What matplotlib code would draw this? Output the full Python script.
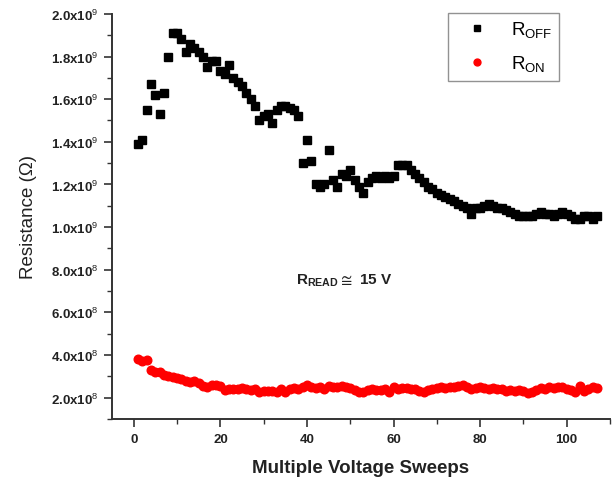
import matplotlib
matplotlib.use('Agg')
import matplotlib.pyplot as plt
from matplotlib.ticker import MultipleLocator, FixedLocator

plt.rcParams['font.family'] = ['Liberation Sans', 'DejaVu Sans']
plt.rcParams['mathtext.fontset'] = 'custom'
plt.rcParams['mathtext.rm'] = 'Liberation Sans'
plt.rcParams['mathtext.bf'] = 'Liberation Sans:bold'

sweeps = list(range(1, 108))

# R_OFF in units of 1e9 ohm
r_off = [1.39, 1.41, 1.55, 1.67, 1.62, 1.53, 1.63, 1.80, 1.91, 1.91,
         1.88, 1.82, 1.86, 1.84, 1.82, 1.80, 1.75, 1.78, 1.78, 1.73,
         1.72, 1.76, 1.70, 1.68, 1.66, 1.63, 1.60, 1.57, 1.50, 1.52,
         1.53, 1.49, 1.55, 1.57, 1.57, 1.56, 1.55, 1.52, 1.30, 1.41,
         1.31, 1.20, 1.19, 1.20, 1.36, 1.22, 1.19, 1.25, 1.24, 1.27,
         1.22, 1.19, 1.16, 1.21, 1.23, 1.24, 1.23, 1.24, 1.23, 1.24,
         1.29, 1.29, 1.29, 1.27, 1.25, 1.23, 1.21, 1.19, 1.18, 1.16,
         1.15, 1.14, 1.13, 1.12, 1.11, 1.10, 1.09, 1.06, 1.09, 1.09,
         1.10, 1.11, 1.10, 1.09, 1.09, 1.08, 1.07, 1.06, 1.05, 1.05,
         1.05, 1.05, 1.06, 1.07, 1.06, 1.06, 1.05, 1.06, 1.07, 1.06,
         1.05, 1.04, 1.04, 1.05, 1.05, 1.04, 1.05]

# R_ON in units of 1e8 ohm
r_on = [3.80, 3.72, 3.75, 3.30, 3.22, 3.18, 3.08, 3.02, 2.95, 2.90,
        2.88, 2.76, 2.74, 2.78, 2.68, 2.55, 2.52, 2.60, 2.58, 2.55,
        2.35, 2.40, 2.42, 2.38, 2.45, 2.40, 2.36, 2.42, 2.28, 2.30,
        2.33, 2.30, 2.25, 2.38, 2.28, 2.40, 2.45, 2.40, 2.50, 2.60,
        2.52, 2.46, 2.50, 2.42, 2.55, 2.52, 2.50, 2.54, 2.48, 2.44,
        2.35, 2.28, 2.25, 2.35, 2.38, 2.36, 2.34, 2.38, 2.28, 2.50,
        2.38, 2.44, 2.45, 2.40, 2.42, 2.30, 2.26, 2.34, 2.40, 2.46,
        2.48, 2.45, 2.52, 2.50, 2.55, 2.60, 2.48, 2.42, 2.46, 2.48,
        2.45, 2.40, 2.44, 2.38, 2.40, 2.30, 2.35, 2.30, 2.34, 2.32,
        2.22, 2.28, 2.35, 2.45, 2.40, 2.48, 2.45, 2.50, 2.52, 2.42,
        2.35, 2.28, 2.55, 2.32, 2.40, 2.50, 2.44]

y_ticks = [2e8, 4e8, 6e8, 8e8, 1e9, 1.2e9, 1.4e9, 1.6e9, 1.8e9, 2e9]
y_labels = ['2.0x10$^{8}$', '4.0x10$^{8}$', '6.0x10$^{8}$', '8.0x10$^{8}$',
            '1.0x10$^{9}$', '1.2x10$^{9}$', '1.4x10$^{9}$', '1.6x10$^{9}$',
            '1.8x10$^{9}$', '2.0x10$^{9}$']

fig = plt.figure(figsize=(6.13, 4.81), dpi=100)
ax = fig.add_axes([0.183, 0.127, 0.812, 0.842])

ax.plot(sweeps, [v * 1e9 for v in r_off], 's', color='black', ms=5.8,
        label='R$_{\\mathregular{OFF}}$')
ax.plot(sweeps, [v * 1e8 for v in r_on], 'o', color='#ff0000', ms=6.2,
        label='R$_{\\mathregular{ON}}$')

ax.set_xlim(-5, 110)
ax.set_ylim(1.0e8, 2.0e9)

ax.xaxis.set_major_locator(FixedLocator([0, 20, 40, 60, 80, 100]))
ax.xaxis.set_minor_locator(FixedLocator([10, 30, 50, 70, 90, 110]))
ax.set_yticks(y_ticks)
ax.set_yticklabels(y_labels)
ax.yaxis.set_minor_locator(MultipleLocator(1e8))

for s in ['top', 'right']:
    ax.spines[s].set_visible(False)
for s in ['left', 'bottom']:
    ax.spines[s].set_color('#333333')
    ax.spines[s].set_linewidth(1.4)

ax.tick_params(which='major', direction='out', length=6, width=1.2,
               color='#333333', labelsize=9.5, pad=4)
ax.tick_params(which='minor', direction='out', length=3.5, width=1.0,
               color='#333333')
for lab in ax.get_xticklabels() + ax.get_yticklabels():
    lab.set_fontweight('bold')
    lab.set_color('#222222')

ax.set_xlabel('Multiple Voltage Sweeps', fontsize=13.5, fontweight='bold',
              color='#222222', labelpad=10)
ax.set_ylabel('Resistance (\u03a9)', fontsize=13.5, color='#222222', labelpad=10)

ax.text(37.5, 7.55e8, 'R$_{\\mathbf{READ}}$$\\mathbf{\\cong}$ 15 V', fontsize=11,
        fontweight='bold', color='#222222', va='center')

leg = ax.legend(loc='upper left', bbox_to_anchor=(448 / 613, 1 - 14 / 481),
                bbox_transform=fig.transFigure, fontsize=13.5, markerscale=0.8,
                frameon=True, fancybox=False, handletextpad=0.6,
                borderpad=0.35, labelspacing=0.75, handlelength=2.4,
                borderaxespad=0)
leg.get_frame().set_edgecolor('#777777')
leg.get_frame().set_linewidth(1.0)

fig.savefig('out.png', dpi=100)
